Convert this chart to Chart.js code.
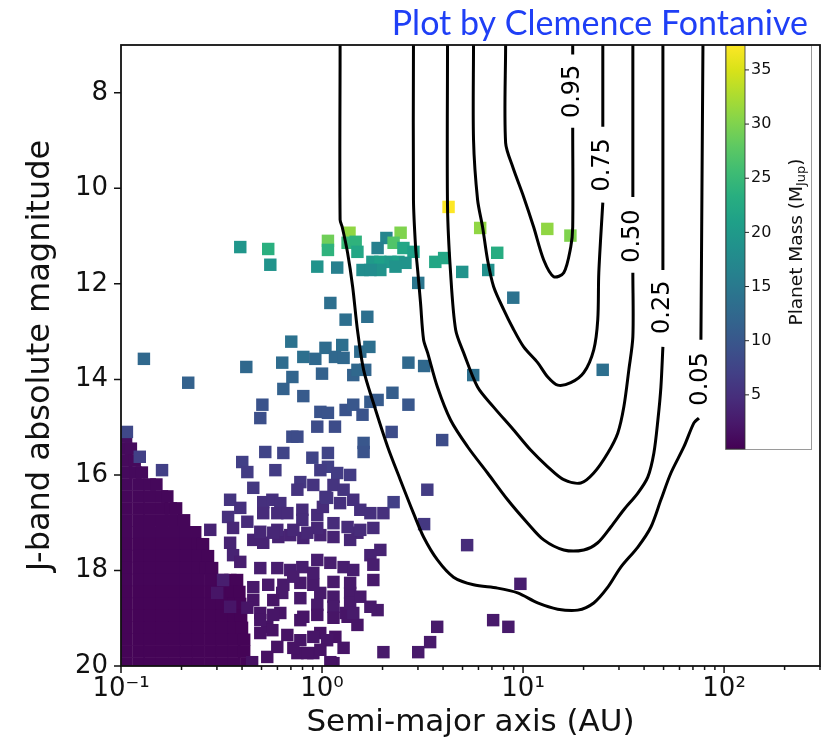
<!DOCTYPE html>
<html>
<head>
<meta charset="utf-8">
<script src="https://cdn.jsdelivr.net/npm/chart.js@4.4.1/dist/chart.umd.min.js"></script>
<style>
  html, body { margin: 0; padding: 0; background: #ffffff; }
  #wrap { width: 832px; height: 745px; position: relative; }
</style>
</head>
<body>
<div id="wrap"><canvas id="chart" width="832" height="745"></canvas></div>
<script>
// ---- axes -------------------------------------------------------------
const xTickValues = [0.1, 0.2, 0.3, 0.4, 0.5, 0.6, 0.7, 0.8, 0.9,
                     1, 2, 3, 4, 5, 6, 7, 8, 9,
                     10, 20, 30, 40, 50, 60, 70, 80, 90,
                     100, 200, 300];
const xMajorTicks = [0.1, 1, 10, 100];
const xMajorLabels = ['10\u207B\u00B9', '10\u2070', '10\u00B9', '10\u00B2'];
const yTickValues = [8, 10, 12, 14, 16, 18, 20];

// ---- colour scale (planet mass, M_Jup) --------------------------------
const massMin = 0;
const massMax = 37.3;
const colorbarTicks = [5, 10, 15, 20, 25, 30, 35];

// ---- dense clump of close-in, low-mass companions (rows of equal J) ---
const denseRowJ = [15.2, 15.45, 15.7, 15.95, 16.2, 16.45, 16.7, 16.95, 17.2, 17.45,
                   17.7, 17.95, 18.2, 18.45, 18.7, 18.95, 19.2, 19.45, 19.7, 19.95];
const denseRowA = [
  [0.106],
  [0.106, 0.112],
  [0.106, 0.117],
  [0.106, 0.118, 0.127],
  [0.106, 0.122, 0.139, 0.150],
  [0.106, 0.122, 0.139, 0.160, 0.170],
  [0.106, 0.122, 0.139, 0.160, 0.177, 0.188],
  [0.106, 0.122, 0.139, 0.160, 0.184, 0.206],
  [0.106, 0.122, 0.139, 0.160, 0.184, 0.211, 0.234],
  [0.106, 0.122, 0.139, 0.160, 0.184, 0.211, 0.242, 0.256],
  [0.106, 0.122, 0.139, 0.160, 0.184, 0.211, 0.242, 0.271],
  [0.106, 0.122, 0.139, 0.160, 0.184, 0.211, 0.242, 0.265, 0.284],
  [0.106, 0.122, 0.139, 0.160, 0.184, 0.211, 0.242, 0.278, 0.318, 0.350, 0.378],
  [0.106, 0.122, 0.139, 0.160, 0.184, 0.211, 0.242, 0.278, 0.318, 0.355, 0.388],
  [0.106, 0.122, 0.139, 0.160, 0.184, 0.211, 0.242, 0.278, 0.318, 0.365, 0.392],
  [0.106, 0.122, 0.139, 0.160, 0.184, 0.211, 0.242, 0.278, 0.318, 0.365, 0.396],
  [0.106, 0.122, 0.139, 0.160, 0.184, 0.211, 0.242, 0.278, 0.318, 0.365, 0.400],
  [0.106, 0.122, 0.139, 0.160, 0.184, 0.211, 0.242, 0.278, 0.318, 0.365, 0.410],
  [0.106, 0.122, 0.139, 0.160, 0.184, 0.211, 0.242, 0.278, 0.318, 0.365, 0.410],
  [0.106, 0.122, 0.139, 0.160, 0.184, 0.211, 0.242, 0.278, 0.318, 0.365, 0.420]
];
const denseRowMass = [1.2, 1.0, 0.9, 0.8, 0.7, 0.6, 0.5, 0.5, 0.5, 0.4,
                      0.4, 0.4, 0.4, 0.3, 0.3, 0.3, 0.3, 0.3, 0.3, 0.3];

// ---- bright, massive companions (J < 12.3) ----------------------------
const brightA = [4.26, 6.12, 13.2, 17.2, 2.46, 1.37, 1.07, 1.07, 1.34, 1.47,
                 1.50, 2.09, 1.89, 2.27, 2.54, 2.85, 1.59, 1.78, 1.95, 2.19,
                 2.40, 2.60, 1.95, 1.74, 2.32, 0.947, 1.19, 3.01, 3.66, 4.05,
                 4.98, 7.44, 6.71, 0.392, 0.540, 0.553, 8.94];
const brightJ = [10.39, 10.83, 10.85, 10.99, 10.93, 10.93, 11.10, 11.29, 11.14, 11.12,
                 11.33, 11.04, 11.25, 11.14, 11.25, 11.33, 11.71, 11.54, 11.54, 11.54,
                 11.54, 11.56, 11.71, 11.71, 11.64, 11.64, 11.66, 11.98, 11.54, 11.46,
                 11.75, 11.35, 11.71, 11.23, 11.27, 11.60, 12.29];
const brightMass = [37.3, 31, 31, 30, 30, 31, 29, 24, 25, 24,
                    22, 17, 16, 27, 22, 21, 18, 20, 21, 20,
                    21, 19, 19, 18, 19, 19, 16, 14.5, 22, 22,
                    19, 23, 18.5, 19.5, 23.5, 19, 14];

// ---- J ~ 12.4 - 14.8 ---------------------------------------------------
const midA = [24.9, 5.65, 0.703, 0.130, 0.420, 0.634, 0.807, 0.712, 0.642, 0.216,
              0.807, 0.505, 0.493, 1.10, 1.31, 1.68, 0.926, 1.04, 1.26, 1.16,
              1.28, 1.55, 1.72, 1.00, 1.43, 1.64, 1.50, 0.981, 1.07, 1.31,
              1.43, 1.74, 1.89, 1.59, 2.24, 2.69, 2.69, 3.22];
const midJ = [13.80, 13.91, 13.21, 13.57, 13.74, 13.65, 13.53, 13.95, 14.20, 14.07,
              14.35, 14.53, 14.81, 12.40, 12.75, 12.69, 13.57, 13.34, 13.28, 13.53,
              13.55, 13.42, 13.32, 13.88, 13.91, 13.80, 13.80, 14.68, 14.70, 14.64,
              14.53, 14.47, 14.43, 14.74, 14.28, 14.53, 13.65, 13.72];
const midMass = [13.5, 13.5, 14, 12.5, 12.5, 13, 13.5, 12, 11.5, 11.5,
                 10.5, 9.5, 9, 13.5, 13.5, 13.5, 12.5, 13, 13.5, 12.5,
                 12.5, 13, 13.5, 11.5, 11.5, 12, 12.5, 9.5, 9.5, 9.5,
                 10, 10.5, 10.5, 9.5, 11, 10, 12.5, 12.5];

// ---- J ~ 15 - 16.5 -----------------------------------------------------
const faintA = [2.22, 3.96, 1.61, 1.61, 0.947, 1.16, 0.107, 0.124, 0.160, 0.712,
                0.754, 0.522, 0.642, 0.895, 1.07, 1.07, 0.401, 0.425, 0.586, 0.981,
                1.19, 1.38, 0.455, 0.780, 0.754, 0.905, 1.14, 1.28, 1.06, 3.34,
                3.22, 2.27];
const faintJ = [15.10, 15.27, 15.33, 15.52, 14.99, 14.99, 15.10, 15.62, 15.90, 15.20,
                15.20, 15.52, 15.54, 15.64, 15.54, 15.83, 15.73, 15.94, 15.90, 15.90,
                15.96, 16.00, 16.27, 16.15, 16.31, 16.21, 16.21, 16.31, 16.48, 16.31,
                17.03, 16.57];
const faintMass = [8.5, 8.5, 10, 9.5, 8.5, 8.5, 8, 7, 7, 8.5,
                   8.5, 7.5, 7.5, 7.5, 7.5, 7, 7, 6.5, 6.5, 6.5,
                   6.5, 6.5, 6, 6, 5.5, 5.5, 5.5, 5.5, 5.5, 6.5,
                   6, 7];

// ---- J ~ 16.5 - 17.2 ---------------------------------------------------
const fainterA = [0.349, 0.341, 0.392, 0.510, 0.566, 0.620, 0.510, 0.599, 0.672, 0.798,
                  0.798, 0.947, 1.01, 1.23, 1.43, 1.55, 1.74, 2.02, 1.04, 0.425,
                  0.361, 0.278, 1.55, 1.80, 1.34, 1.14, 0.947, 0.845, 0.720, 0.599,
                  0.493, 0.572];
const fainterJ = [16.52, 16.88, 16.69, 16.57, 16.52, 16.59, 16.80, 16.80, 16.80, 16.73,
                  16.94, 16.84, 16.67, 16.59, 16.52, 16.73, 16.80, 16.80, 16.46, 16.98,
                  17.11, 17.15, 17.15, 17.11, 17.09, 17.01, 17.11, 17.21, 17.15, 17.15,
                  17.19, 17.21];
const fainterMass = [5.5, 5, 5, 5, 5, 5, 4.5, 4.5, 4.5, 4.5,
                     4.5, 4.5, 4.5, 5, 5, 5, 5, 5, 5.5, 4.5,
                     4, 3.5, 4.5, 4.5, 4.5, 4.5, 4, 4, 4, 4,
                     4, 4];

// ---- J ~ 17.2 - 18.1 ---------------------------------------------------
const dimA = [0.349, 0.455, 0.510, 0.606, 0.695, 0.807, 0.981, 1.14, 1.50, 1.95,
              1.74, 0.361, 0.392, 0.493, 0.599, 0.695, 0.798, 0.947, 1.10, 1.28,
              1.43, 1.80, 1.38, 5.27, 0.719, 0.905];
const dimJ = [17.42, 17.36, 17.42, 17.30, 17.26, 17.32, 17.26, 17.30, 17.21, 17.57,
              17.68, 17.68, 17.82, 17.95, 17.95, 17.99, 17.93, 17.78, 17.84, 17.93,
              17.99, 17.88, 17.36, 17.47, 18.13, 18.05];
const dimMass = [3.5, 3.5, 3.5, 3.5, 3.5, 3.5, 3.5, 3.5, 4, 3.5,
                 3.5, 3.5, 3, 3, 3, 3, 3, 3, 3, 3,
                 3, 3, 4, 4.5, 2.8, 2.8];

// ---- J ~ 18.2 - 20 -----------------------------------------------------
const dimmestA = [1.80, 1.38, 1.14, 0.905, 0.780, 0.642, 0.540, 0.455, 0.322, 0.301,
                  0.455, 0.572, 0.780, 0.947, 1.14, 1.38, 1.55, 1.74, 0.349, 0.425,
                  0.572, 0.493, 0.807, 0.947, 1.14, 1.34, 1.50, 3.74, 3.45, 3.01,
                  2.02, 1.28, 1.06, 0.905, 0.780, 0.672, 0.566, 0.493, 0.599, 0.720,
                  0.845, 0.981, 1.10, 0.534, 0.449, 9.70, 7.10, 8.45, 1.43];
const dimmestJ = [18.20, 18.26, 18.24, 18.30, 18.26, 18.30, 18.30, 18.35, 18.20, 18.47,
                  18.62, 18.62, 18.58, 18.72, 18.76, 18.68, 18.55, 18.76, 18.76, 18.78,
                  18.93, 19.04, 18.97, 18.93, 18.99, 18.97, 19.14, 19.18, 19.50, 19.71,
                  19.71, 19.62, 19.46, 19.39, 19.46, 19.35, 19.25, 19.31, 19.60, 19.62,
                  19.73, 19.66, 19.92, 19.81, 19.92, 18.28, 19.04, 19.18, 18.89];
const dimmestMass = [2.5, 2.5, 2.5, 2.5, 2.5, 2.5, 2.5, 2.5, 3, 2,
                     2, 2, 2.5, 2.5, 2.5, 2.5, 2.5, 2.5, 2, 2,
                     2, 2, 2, 2, 2, 2, 2, 2.5, 2.5, 2.5,
                     2.5, 2, 2, 2, 2, 1.8, 1.8, 1.8, 1.8, 1.8,
                     1.8, 1.8, 1.8, 1.6, 1.6, 3, 2.5, 2.5, 2.5];
const dimmestExtraA = [0.634, 0.980, 1.14, 1.38, 0.493, 0.620, 0.780, 1.31, 1.89,
                       0.534, 0.980, 1.165, 1.14, 0.754, 0.905];
const dimmestExtraJ = [18.47, 18.47, 18.55, 18.47, 18.89, 18.89, 19.04, 18.89, 18.83,
                       19.18, 19.31, 19.39, 19.94, 19.73, 19.73];
const dimmestExtraMass = [2.5, 2.5, 2.5, 2.5, 2, 2, 2, 2.2, 2.5,
                          1.8, 1.8, 1.8, 1.8, 1.8, 1.8];

// ---- detection-probability contours (null = gap left for the label) ---
const c95A = [8.19, 8.19, 8.88, 10.07, 11.29, 12.67, 14.21, 15.94, 17.27, 17.66, 17.66, 17.66, 17.66, 17.66];
const c95J = [7.0, 9.05, 9.55, 10.18, 10.81, 11.50, 11.85, 11.77, 11.23, 10.81, 8.73, null, 7.20, 7.0];
const c75A = [5.67, 5.67, 5.94, 6.29, 6.66, 7.14, 8.01, 8.88, 10.07, 11.82,
              13.27, 14.87, 17.27, 20.04, 22.47, 23.53, 23.81, 24.93, 24.93, 24.93, 24.93];
const c75J = [7.0, 8.98, 10.24, 10.81, 11.50, 12.06, 12.54, 12.92, 13.32, 13.65,
              13.95, 14.12, 14.07, 13.86, 13.38, 12.75, 11.77, 10.30, null, 8.71, 7.0];
const c50A = [4.21, 4.21, 4.36, 4.62, 5.06, 5.94, 7.14, 8.98, 10.91, 13.27, 15.94,
              19.36, 22.47, 26.40, 29.61, 31.71, 33.59, 35.17, 35.17, 35.17, 35.17, 35.17];
const c50J = [7.0, 10.39, 11.77, 12.96, 13.44, 14.16, 14.58, 15.06, 15.48, 15.83, 16.10,
              16.17, 15.96, 15.54, 15.12, 14.58, 13.80, 13.11, 11.77, null, 10.18, 7.0];
const c25A = [2.85, 2.85, 2.92, 2.99, 3.09, 3.20, 3.35, 3.75, 4.36, 5.30, 6.66, 8.38, 10.54, 12.67,
              15.94, 20.04, 23.53, 27.33, 31.71, 37.24, 41.77, 44.75, 46.85, 48.50, 49.62, 49.62, 49.62, 49.62];
const c25J = [7.0, 10.24, 11.23, 11.71, 12.40, 13.17, 13.44, 14.16, 14.85, 15.41, 15.96, 16.52, 17.01, 17.36,
              17.57, 17.57, 17.42, 17.09, 16.73, 16.38, 16.04, 15.54, 14.85, 14.16, 13.32, null, 11.71, 7.0];
const c05A = [1.23, 1.23, 1.26, 1.34, 1.42, 1.50, 1.61, 1.80, 2.12, 2.45, 2.85, 3.20, 3.75, 4.51, 5.67,
              7.47, 9.40, 11.82, 14.87, 18.71, 22.47, 26.40, 30.64, 37.24, 43.24, 48.50, 54.39, 63.13,
              70.80, 74.97, 75.8, 76.7, 78.5];
const c05J = [7.0, 10.66, 10.81, 11.35, 12.06, 12.96, 13.80, 14.49, 15.41, 16.10, 16.80, 17.30, 17.78, 18.14, 18.30,
              18.37, 18.47, 18.68, 18.81, 18.83, 18.68, 18.35, 17.93, 17.51, 17.09, 16.52, 15.96, 15.41,
              14.91, 14.81, null, 13.17, 7.0];

const contourLevels = ['0.95', '0.75', '0.50', '0.25', '0.05'];
const contourLabelA = [17.66, 24.93, 35.17, 49.62, 76.7];
const contourLabelJ = [7.97, 9.51, 11.0, 12.49, 13.99];

const creditText = 'Plot by Clemence Fontanive';

// ---- viridis -----------------------------------------------------------
const viridisStops = ['#440154', '#48186a', '#472d7b', '#424086', '#3b528b', '#33638d',
                      '#2c728e', '#26828e', '#21918c', '#1fa088', '#28ae80', '#3fbc73',
                      '#5ec962', '#84d44b', '#addc30', '#d8e219', '#fde725'];
function hexRgb(h) {
  return [parseInt(h.slice(1, 3), 16), parseInt(h.slice(3, 5), 16), parseInt(h.slice(5, 7), 16)];
}
function viridis(t) {
  t = Math.max(0, Math.min(1, t));
  const n = viridisStops.length - 1;
  const f = t * n;
  const i = Math.min(n - 1, Math.floor(f));
  const u = f - i;
  const a = hexRgb(viridisStops[i]);
  const b = hexRgb(viridisStops[i + 1]);
  const c = a.map((v, k) => Math.round(v + (b[k] - v) * u));
  return `rgb(${c[0]},${c[1]},${c[2]})`;
}
const massColor = m => viridis((m - massMin) / (massMax - massMin));

// ---- datasets ----------------------------------------------------------
function pointSet(A, J, M, order) {
  const data = A.map((a, i) => ({ x: a, y: J[i], m: M[i] }));
  return {
    type: 'scatter',
    data,
    order,
    pointStyle: 'rect',
    pointRadius: 8.8,
    pointBorderWidth: 0,
    borderWidth: 0,
    backgroundColor: data.map(p => massColor(p.m)),
    clip: 0
  };
}
function contourSet(A, J) {
  return {
    type: 'scatter',
    showLine: true,
    spanGaps: false,
    data: A.map((a, i) => ({ x: a, y: J[i] })),
    order: 0,
    borderColor: '#000000',
    borderWidth: 3,
    pointRadius: 0,
    tension: 0.3,
    fill: false
  };
}

const denseA = [], denseJ = [], denseMass = [];
denseRowA.forEach((row, r) => row.forEach(a => {
  denseA.push(a); denseJ.push(denseRowJ[r]); denseMass.push(denseRowMass[r]);
}));

const datasets = [
  contourSet(c95A, c95J),
  contourSet(c75A, c75J),
  contourSet(c50A, c50J),
  contourSet(c25A, c25J),
  contourSet(c05A, c05J),
  pointSet(brightA, brightJ, brightMass, 1),
  pointSet(midA, midJ, midMass, 1),
  pointSet(faintA, faintJ, faintMass, 1),
  pointSet(fainterA, fainterJ, fainterMass, 1),
  pointSet(dimA, dimJ, dimMass, 1),
  pointSet(dimmestA, dimmestJ, dimmestMass, 1),
  pointSet(dimmestExtraA, dimmestExtraJ, dimmestExtraMass, 1),
  pointSet(denseA, denseJ, denseMass, 2)
];

// ---- plugins -----------------------------------------------------------
const contourLabels = {
  id: 'contourLabels',
  afterDatasetsDraw(chart) {
    const { ctx, scales: { x, y } } = chart;
    ctx.save();
    ctx.font = '24px "DejaVu Sans"';
    ctx.fillStyle = '#000';
    ctx.textAlign = 'center';
    ctx.textBaseline = 'middle';
    contourLevels.forEach((lbl, i) => {
      ctx.save();
      ctx.translate(x.getPixelForValue(contourLabelA[i]), y.getPixelForValue(contourLabelJ[i]));
      ctx.rotate(-Math.PI / 2);
      ctx.fillText(lbl, 0, 0);
      ctx.restore();
    });
    ctx.restore();
  }
};

const colorbar = {
  id: 'colorbar',
  afterDatasetsDraw(chart) {
    const { ctx, chartArea: ca } = chart;
    const boxL = ca.right - 95, boxR = ca.right - 8, boxT = ca.top, boxB = ca.top + 405;
    const barL = boxL + 1, barR = boxL + 20, barT = boxT, barB = boxB - 1;
    ctx.save();
    ctx.fillStyle = '#ffffff';
    ctx.fillRect(boxL, boxT, boxR - boxL, boxB - boxT);
    ctx.strokeStyle = '#9a9a9a';
    ctx.lineWidth = 1;
    ctx.strokeRect(boxL + 0.5, boxT + 0.5, boxR - boxL - 1, boxB - boxT - 1);

    const grad = ctx.createLinearGradient(0, barB, 0, barT);
    viridisStops.forEach((c, i) => grad.addColorStop(i / (viridisStops.length - 1), c));
    ctx.fillStyle = grad;
    ctx.fillRect(barL, barT, barR - barL, barB - barT);
    ctx.strokeStyle = '#333';
    ctx.lineWidth = 0.8;
    ctx.strokeRect(barL, barT, barR - barL, barB - barT);

    const mY = m => barB - (m - massMin) / (massMax - massMin) * (barB - barT);
    ctx.strokeStyle = '#222';
    ctx.lineWidth = 1;
    ctx.fillStyle = '#111';
    ctx.font = '16px "DejaVu Sans"';
    ctx.textAlign = 'left';
    ctx.textBaseline = 'middle';
    colorbarTicks.forEach(v => {
      const py = mY(v);
      ctx.beginPath();
      ctx.moveTo(barR, py);
      ctx.lineTo(barR + 4, py);
      ctx.stroke();
      ctx.fillText(String(v), barR + 6, py);
    });

    // rotated label with subscript
    const parts = [['Planet Mass (M', 18.5, 0], ['Jup', 13, 5], [')', 18.5, 0]];
    let total = 0;
    parts.forEach(p => { ctx.font = p[1] + 'px "DejaVu Sans"'; p.push(ctx.measureText(p[0]).width); total += p[3]; });
    ctx.translate(boxR - 15, (barT + barB) / 2 - 5);
    ctx.rotate(-Math.PI / 2);
    let cx = -total / 2;
    ctx.textAlign = 'left';
    parts.forEach(p => {
      ctx.font = p[1] + 'px "DejaVu Sans"';
      ctx.fillText(p[0], cx, p[2]);
      cx += p[3];
    });
    ctx.restore();
  }
};

const frameAndTicks = {
  id: 'frameAndTicks',
  afterDraw(chart) {
    const { ctx, chartArea: ca, scales: { x, y } } = chart;
    ctx.save();
    ctx.strokeStyle = '#111';
    ctx.lineWidth = 1.5;
    ctx.beginPath();
    xTickValues.forEach(v => {
      const px = x.getPixelForValue(v);
      const len = xMajorTicks.includes(v) ? 7 : 4;
      ctx.moveTo(px, ca.bottom);
      ctx.lineTo(px, ca.bottom + len);
    });
    yTickValues.forEach(v => {
      const py = y.getPixelForValue(v);
      ctx.moveTo(ca.left, py);
      ctx.lineTo(ca.left - 7, py);
    });
    ctx.stroke();
    ctx.lineWidth = 1.8;
    ctx.strokeRect(ca.left, ca.top, ca.right - ca.left, ca.bottom - ca.top);

    ctx.font = '34px Lato';
    ctx.fillStyle = '#1f3ff6';
    ctx.textAlign = 'right';
    ctx.textBaseline = 'alphabetic';
    ctx.fillText(creditText, 808, 35);
    ctx.restore();
  }
};

// ---- chart -------------------------------------------------------------
Chart.defaults.font.family = '"DejaVu Sans"';
Chart.defaults.color = '#111';

new Chart(document.getElementById('chart'), {
  type: 'scatter',
  data: { datasets },
  options: {
    responsive: false,
    animation: false,
    events: [],
    layout: { padding: { left: 0, right: 12, top: 45, bottom: 0 } },
    plugins: { legend: { display: false }, tooltip: { enabled: false }, title: { display: false } },
    scales: {
      x: {
        type: 'logarithmic',
        min: 0.1,
        max: 300,
        afterBuildTicks: s => { s.ticks = xTickValues.map(v => ({ value: v })); },
        afterFit: s => { s.height = 79; },
        grid: { display: false, drawTicks: false },
        border: { display: false },
        ticks: {
          autoSkip: false,
          maxRotation: 0,
          padding: 8,
          color: '#111',
          font: { size: 26 },
          callback: v => { const i = xMajorTicks.indexOf(v); return i >= 0 ? xMajorLabels[i] : ''; }
        },
        title: {
          display: true,
          text: 'Semi-major axis (AU)',
          color: '#111',
          font: { size: 31 },
          padding: { top: 0, bottom: 3 }
        }
      },
      y: {
        type: 'linear',
        reverse: true,
        min: 7,
        max: 20,
        afterBuildTicks: s => { s.ticks = yTickValues.map(v => ({ value: v })); },
        afterFit: s => { s.width = 121; },
        grid: { display: false, drawTicks: false },
        border: { display: false },
        ticks: {
          padding: 13,
          color: '#111',
          font: { size: 26 },
          callback: v => String(v)
        },
        title: {
          display: true,
          text: 'J-band absolute magnitude',
          color: '#111',
          font: { size: 32 },
          padding: { top: 21, bottom: 0 }
        }
      }
    }
  },
  plugins: [contourLabels, colorbar, frameAndTicks]
});
</script>
</body>
</html>
